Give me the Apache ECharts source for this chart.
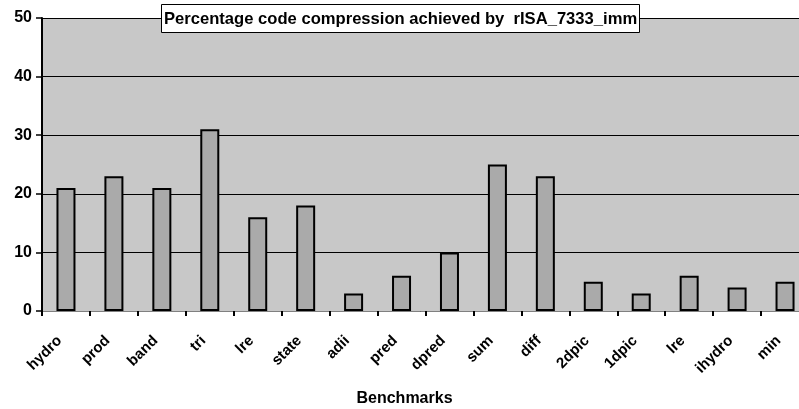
<!DOCTYPE html>
<html>
<head>
<meta charset="utf-8">
<script src="https://cdn.jsdelivr.net/npm/echarts@6/dist/echarts.min.js"></script>
<style>
  html, body { margin: 0; padding: 0; background: #fff; }
  #chart { width: 799px; height: 409px; }
</style>
</head>
<body>
<div id="chart"></div>
<script>
// Benchmarks and compression percentages
const benchmarks = ['hydro', 'prod', 'band', 'tri', 'lre', 'state', 'adii', 'pred', 'dpred', 'sum', 'diff', '2dpic', '1dpic', 'lre', 'ihydro', 'min'];
const compression = [21, 23, 21, 31, 16, 18, 3, 6, 10, 25, 23, 5, 3, 6, 4, 5];
const yTicks = [0, 10, 20, 30, 40, 50];

const chart = echarts.init(document.getElementById('chart'), null, { renderer: 'canvas' });
const font = 'Liberation Sans, Arial, sans-serif';

chart.setOption({
  animation: false,
  backgroundColor: '#ffffff',
  title: {
    text: 'Percentage code compression achieved by  rISA_7333_imm',
    left: 161,
    top: 4,
    backgroundColor: '#ffffff',
    borderColor: '#000000',
    borderWidth: 1,
    padding: [7, 3, 5, 3],
    textStyle: { fontFamily: font, fontSize: 16.6, fontWeight: 'bold', color: '#000' }
  },
  grid: {
    left: 42,
    top: 18,
    width: 767,
    height: 293,
    outerBoundsMode: 'none',
    containLabel: false,
    show: true,
    backgroundColor: '#c8c8c8',
    borderWidth: 0
  },
  xAxis: {
    type: 'category',
    data: benchmarks,
    name: 'Benchmarks',
    nameLocation: 'middle',
    nameGap: 80,
    nameTextStyle: { fontFamily: font, fontSize: 16, fontWeight: 'bold', color: '#000', padding: [0, 42, 0, 0] },
    axisLine: { lineStyle: { color: '#808080', width: 1 } },
    axisTick: { show: true, inside: false, length: 5, lineStyle: { color: '#000', width: 2 } },
    axisLabel: {
      interval: 0,
      rotate: 45,
      margin: 21,
      padding: [0, 9, 0, 0],
      fontFamily: font,
      fontSize: 15,
      fontWeight: 'bold',
      color: '#000'
    }
  },
  yAxis: {
    type: 'value',
    min: yTicks[0],
    max: yTicks[yTicks.length - 1],
    interval: 10,
    axisLine: { show: true, lineStyle: { color: '#000', width: 2 } },
    axisTick: { show: true, inside: false, length: 6, lineStyle: { color: '#000', width: 1.5 } },
    axisLabel: { fontFamily: font, fontSize: 16, fontWeight: 'bold', color: '#000', margin: 10 },
    splitLine: { show: true, lineStyle: { color: '#000', width: 1.2 } }
  },
  series: [{
    type: 'bar',
    data: compression,
    barWidth: 19,
    itemStyle: { color: '#aaaaaa', borderColor: '#000', borderWidth: 2 }
  }]
});
</script>
</body>
</html>
